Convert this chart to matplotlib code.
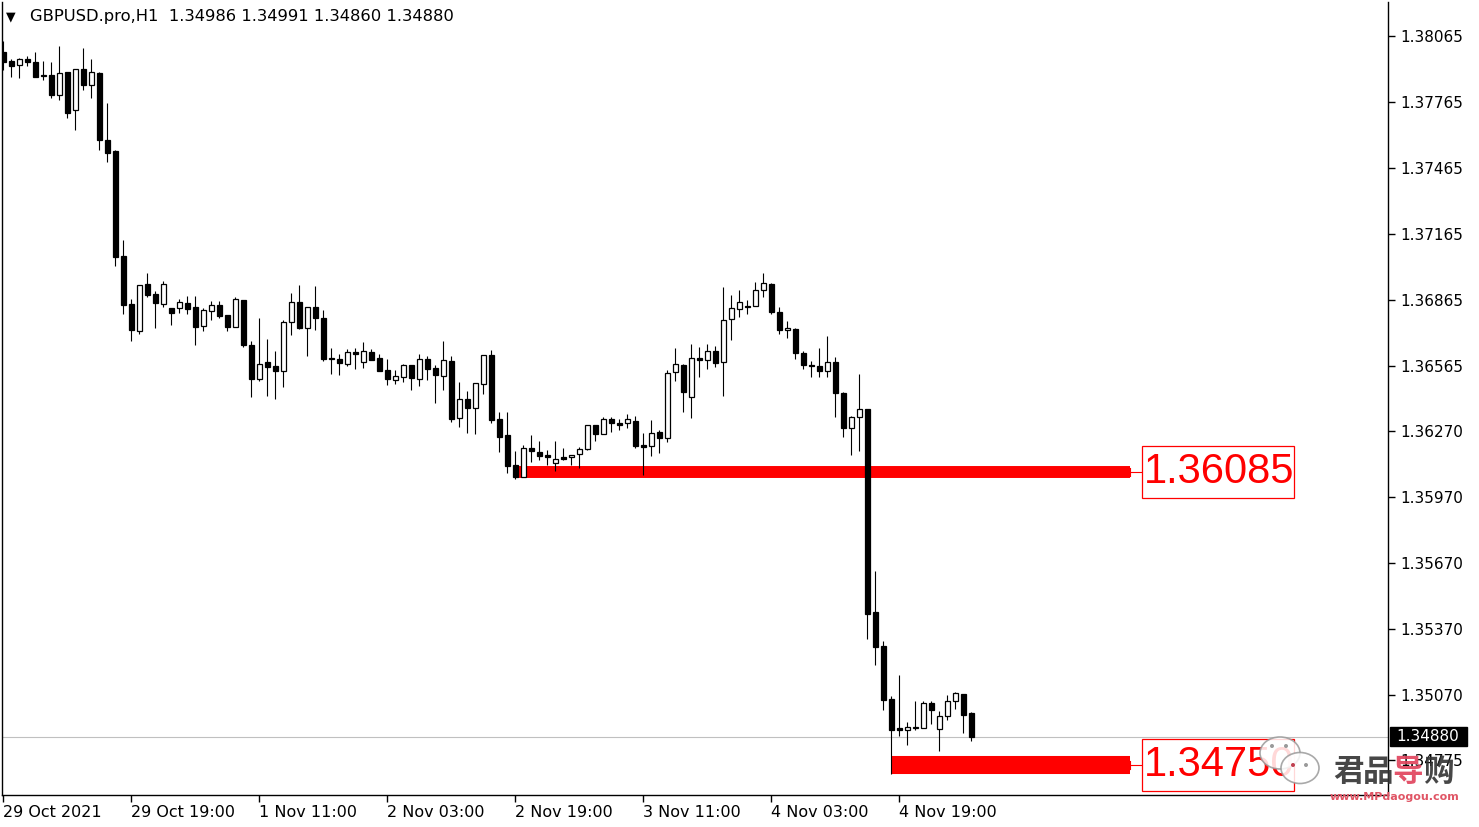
import matplotlib.pyplot as plt
import matplotlib.transforms as mtransforms
from matplotlib.patches import Rectangle, Ellipse

# GBPUSD H1 candles, 29 Oct 2021 03:00 onwards
opens = [1.37992, 1.37950, 1.37932, 1.37960, 1.37947, 1.37889, 1.37888, 1.37798, 1.37901, 1.37730,
         1.37915, 1.37844, 1.37897, 1.37592, 1.37542, 1.37065, 1.36847, 1.36726, 1.36938, 1.36892,
         1.36848, 1.36829, 1.36829, 1.36850, 1.36833, 1.36748, 1.36814, 1.36841, 1.36796, 1.36741,
         1.36864, 1.36659, 1.36507, 1.36582, 1.36564, 1.36541, 1.36764, 1.36855, 1.36739, 1.36832,
         1.36782, 1.36601, 1.36595, 1.36576, 1.36627, 1.36582, 1.36627, 1.36600, 1.36545, 1.36503,
         1.36516, 1.36568, 1.36507, 1.36595, 1.36555, 1.36521, 1.36586, 1.36330, 1.36414, 1.36375,
         1.36485, 1.36614, 1.36323, 1.36250, 1.36114, 1.36062, 1.36191, 1.36173, 1.36161, 1.36123,
         1.36150, 1.36153, 1.36164, 1.36186, 1.36296, 1.36255, 1.36323, 1.36305, 1.36305, 1.36314,
         1.36205, 1.36203, 1.36264, 1.36240, 1.36536, 1.36568, 1.36423, 1.36600, 1.36591, 1.36632,
         1.36582, 1.36777, 1.36823, 1.36836, 1.36836, 1.36909, 1.36936, 1.36809, 1.36727, 1.36732,
         1.36623, 1.36570, 1.36564, 1.36541, 1.36582, 1.36441, 1.36282, 1.36332, 1.36368, 1.35446,
         1.35292, 1.35050, 1.34918, 1.34912, 1.34920, 1.34921, 1.35033, 1.34916, 1.34973, 1.35041,
         1.35073, 1.34986]
highs = [1.38042, 1.37959, 1.37965, 1.37974, 1.37992, 1.37951, 1.37947, 1.38021, 1.37901, 1.37914,
         1.38010, 1.37960, 1.37900, 1.37760, 1.37547, 1.37138, 1.36870, 1.36932, 1.36988, 1.36906,
         1.36951, 1.36829, 1.36870, 1.36883, 1.36883, 1.36829, 1.36859, 1.36859, 1.36796, 1.36879,
         1.36864, 1.36679, 1.36783, 1.36688, 1.36633, 1.36774, 1.36897, 1.36933, 1.36832, 1.36929,
         1.36818, 1.36645, 1.36618, 1.36641, 1.36645, 1.36673, 1.36641, 1.36620, 1.36595, 1.36545,
         1.36573, 1.36568, 1.36618, 1.36609, 1.36568, 1.36677, 1.36609, 1.36491, 1.36450, 1.36486,
         1.36614, 1.36636, 1.36355, 1.36355, 1.36177, 1.36205, 1.36250, 1.36223, 1.36182, 1.36223,
         1.36191, 1.36162, 1.36196, 1.36296, 1.36296, 1.36332, 1.36332, 1.36323, 1.36345, 1.36336,
         1.36259, 1.36320, 1.36273, 1.36545, 1.36645, 1.36573, 1.36664, 1.36650, 1.36664, 1.36655,
         1.36923, 1.36886, 1.36909, 1.36864, 1.36945, 1.36986, 1.36941, 1.36832, 1.36768, 1.36736,
         1.36632, 1.36586, 1.36645, 1.36700, 1.36605, 1.36445, 1.36338, 1.36529, 1.36368, 1.35635,
         1.35314, 1.35065, 1.35160, 1.34947, 1.35042, 1.35042, 1.35042, 1.34997, 1.35070, 1.35082,
         1.35073, 1.34991]
lows = [1.37910, 1.37880, 1.37875, 1.37930, 1.37880, 1.37865, 1.37785, 1.37774, 1.37694, 1.37639,
        1.37820, 1.37783, 1.37548, 1.37494, 1.37021, 1.36803, 1.36680, 1.36712, 1.36880, 1.36739,
        1.36835, 1.36753, 1.36807, 1.36801, 1.36662, 1.36726, 1.36774, 1.36785, 1.36726, 1.36741,
        1.36653, 1.36426, 1.36498, 1.36430, 1.36416, 1.36471, 1.36707, 1.36733, 1.36612, 1.36729,
        1.36586, 1.36530, 1.36526, 1.36566, 1.36551, 1.36557, 1.36594, 1.36544, 1.36477, 1.36485,
        1.36494, 1.36457, 1.36475, 1.36503, 1.36398, 1.36457, 1.36312, 1.36289, 1.36262, 1.36257,
        1.36439, 1.36307, 1.36176, 1.36080, 1.36053, 1.36059, 1.36130, 1.36139, 1.36115, 1.36089,
        1.36138, 1.36115, 1.36103, 1.36182, 1.36226, 1.36255, 1.36264, 1.36273, 1.36282, 1.36194,
        1.36071, 1.36157, 1.36171, 1.36221, 1.36498, 1.36357, 1.36330, 1.36514, 1.36550, 1.36559,
        1.36427, 1.36682, 1.36786, 1.36800, 1.36836, 1.36880, 1.36800, 1.36709, 1.36691, 1.36595,
        1.36550, 1.36516, 1.36516, 1.36514, 1.36332, 1.36244, 1.36162, 1.36180, 1.35323, 1.35207,
        1.35003, 1.34712, 1.34885, 1.34844, 1.34912, 1.34921, 1.34939, 1.34817, 1.34957, 1.35007,
        1.34898, 1.34860]
closes = [1.37947, 1.37930, 1.37959, 1.37948, 1.37880, 1.37882, 1.37798, 1.37897, 1.37716, 1.37914,
          1.37844, 1.37901, 1.37594, 1.37535, 1.37062, 1.36844, 1.36730, 1.36932, 1.36889, 1.36853,
          1.36938, 1.36805, 1.36855, 1.36825, 1.36744, 1.36818, 1.36841, 1.36794, 1.36741, 1.36868,
          1.36662, 1.36507, 1.36573, 1.36562, 1.36541, 1.36764, 1.36855, 1.36739, 1.36832, 1.36782,
          1.36598, 1.36595, 1.36581, 1.36627, 1.36620, 1.36632, 1.36594, 1.36544, 1.36507, 1.36518,
          1.36568, 1.36512, 1.36595, 1.36553, 1.36525, 1.36591, 1.36324, 1.36414, 1.36375, 1.36486,
          1.36614, 1.36321, 1.36244, 1.36112, 1.36062, 1.36191, 1.36180, 1.36157, 1.36151, 1.36141,
          1.36144, 1.36162, 1.36186, 1.36296, 1.36255, 1.36323, 1.36305, 1.36298, 1.36323, 1.36203,
          1.36198, 1.36259, 1.36239, 1.36532, 1.36573, 1.36445, 1.36600, 1.36591, 1.36632, 1.36577,
          1.36773, 1.36827, 1.36855, 1.36832, 1.36909, 1.36941, 1.36809, 1.36727, 1.36736, 1.36623,
          1.36568, 1.36567, 1.36541, 1.36582, 1.36441, 1.36282, 1.36332, 1.36368, 1.35439, 1.35289,
          1.35048, 1.34912, 1.34912, 1.34923, 1.34924, 1.35033, 1.35003, 1.34973, 1.35041, 1.35077,
          1.34980, 1.34880]

time_tick_pos = [0, 16, 32, 48, 64, 80, 96, 112]
time_labels = ["29 Oct 2021", "29 Oct 19:00", "1 Nov 11:00", "2 Nov 03:00",
               "2 Nov 19:00", "3 Nov 11:00", "4 Nov 03:00", "4 Nov 19:00"]
price_ticks = [1.38065, 1.37765, 1.37465, 1.37165, 1.36865, 1.36565, 1.36270,
               1.35970, 1.35670, 1.35370, 1.35070, 1.34775]

# marked levels: (price, first bar, thickness in px)
level_upper = 1.36085
level_lower = 1.34750
upper_start = 64.4
lower_start = 111
level_end = 140.8

W, H = 1479, 827
fig = plt.figure(figsize=(W / 100, H / 100), dpi=100)
ax = fig.add_axes([2 / W, 32 / H, 1386 / W, 793 / H])
ymin, ymax = 1.34615, 1.38220
ax.set_xlim(-0.16, 173.09)
ax.set_ylim(ymin, ymax)
px_price = (ymax - ymin) / 793

idx = list(range(len(opens)))

# red levels under the candles
ax.plot([upper_start, level_end], [level_upper, level_upper], color='red', lw=8.6,
        solid_capstyle='butt', zorder=1)
ax.plot([lower_start, level_end], [level_lower, level_lower], color='red', lw=13,
        solid_capstyle='butt', zorder=1)

# bid line
ax.axhline(closes[-1], color='#c0c0c0', lw=0.8, zorder=0.5)

# candles
ax.vlines(idx, lows, highs, color='black', lw=0.8, zorder=3)
bottoms = [min(o, c) for o, c in zip(opens, closes)]
heights = [abs(c - o) for o, c in zip(opens, closes)]
fills = ['white' if c >= o else 'black' for o, c in zip(opens, closes)]
ax.bar(idx, heights, bottom=bottoms, width=0.56, color=fills, edgecolor='black',
       linewidth=0.9, zorder=4)

# level labels
box_x = 142.34
for lvl in [level_upper, level_lower]:
    ax.plot([level_end, box_x], [lvl, lvl], color='red', lw=0.8, zorder=2)
    ax.plot([level_end, level_end], [lvl - 4 * px_price, lvl + 4 * px_price],
            color='red', lw=0.8, zorder=2)
    ax.add_patch(Rectangle((box_x, lvl - 26 * px_price), 19, 52 * px_price,
                           fc='white', ec='red', lw=0.9, zorder=2))
    ax.text(box_x + 9.6, lvl, f"{lvl:.5f}", color='red', fontsize=30,
            family='Liberation Sans', ha='center', va='center', zorder=3)

# axes style
for side in ['left', 'bottom', 'right']:
    ax.spines[side].set_linewidth(1)
    ax.spines[side].set_color('black')
ax.spines['top'].set_visible(False)
ax.yaxis.tick_right()
ax.set_yticks(price_ticks)
ax.set_yticklabels([f"{v:.5f}" for v in price_ticks])
ax.tick_params(axis='y', length=5, width=1, pad=4, labelsize=11)
ax.set_xticks(time_tick_pos)
ax.set_xticklabels(time_labels)
plt.setp(ax.get_xticklabels(), ha='left')
ax.tick_params(axis='x', length=5, width=1, pad=2, labelsize=11.5)

# current price tag on the axis
blend = mtransforms.blended_transform_factory(fig.transFigure, ax.transData)
ax.add_patch(Rectangle((1390 / W, closes[-1] - 9.5 * px_price), 77 / W, 19 * px_price,
                       transform=blend, fc='black', ec='black', clip_on=False, zorder=5))
ax.text(1396 / W, closes[-1], f"{closes[-1]:.5f}", transform=blend, color='white',
        fontsize=11, va='center', ha='left', clip_on=False, zorder=6)

# header
fig.text(6 / W, 1 - 17 / H, "\u25bc", fontsize=9, va='center', ha='left')
fig.text(30 / W, 1 - 17 / H, "GBPUSD.pro,H1  1.34986 1.34991 1.34860 1.34880",
         fontsize=11.8, va='center', ha='left')

# watermark
fig.add_artist(Ellipse((1280 / W, 1 - 753 / H), 40 / W, 32 / H, transform=fig.transFigure,
                       fc='white', ec='#9a9a9a', lw=1.2, alpha=0.85))
fig.add_artist(Ellipse((1300 / W, 1 - 768 / H), 38 / W, 31 / H, transform=fig.transFigure,
                       fc='white', ec='#9a9a9a', lw=1.2, alpha=0.85))
for dx, dy, col in [(1272, 746, '#9a9a9a'), (1286, 746, '#9a9a9a'),
                    (1293, 765, '#c04050'), (1306, 765, '#9a9a9a')]:
    fig.add_artist(Ellipse((dx / W, 1 - dy / H), 4 / W, 4 / H, transform=fig.transFigure,
                           fc=col, ec='none'))
for ch, cx, col in [("君", 1348, '#333333'), ("品", 1378, '#333333'),
                    ("导", 1407, '#e0405a'), ("购", 1438, '#333333')]:
    fig.text(cx / W, 1 - 772 / H, ch, fontsize=22, fontweight='bold', color=col,
             family=['Noto Sans CJK SC', 'DejaVu Sans'], ha='center', va='center', alpha=0.9)
fig.text(1394 / W, 1 - 797 / H, "www.MPdaogou.com", fontsize=8, fontweight='bold',
         color='#e05565', ha='center', va='center')

fig.savefig("out.png", dpi=100)
